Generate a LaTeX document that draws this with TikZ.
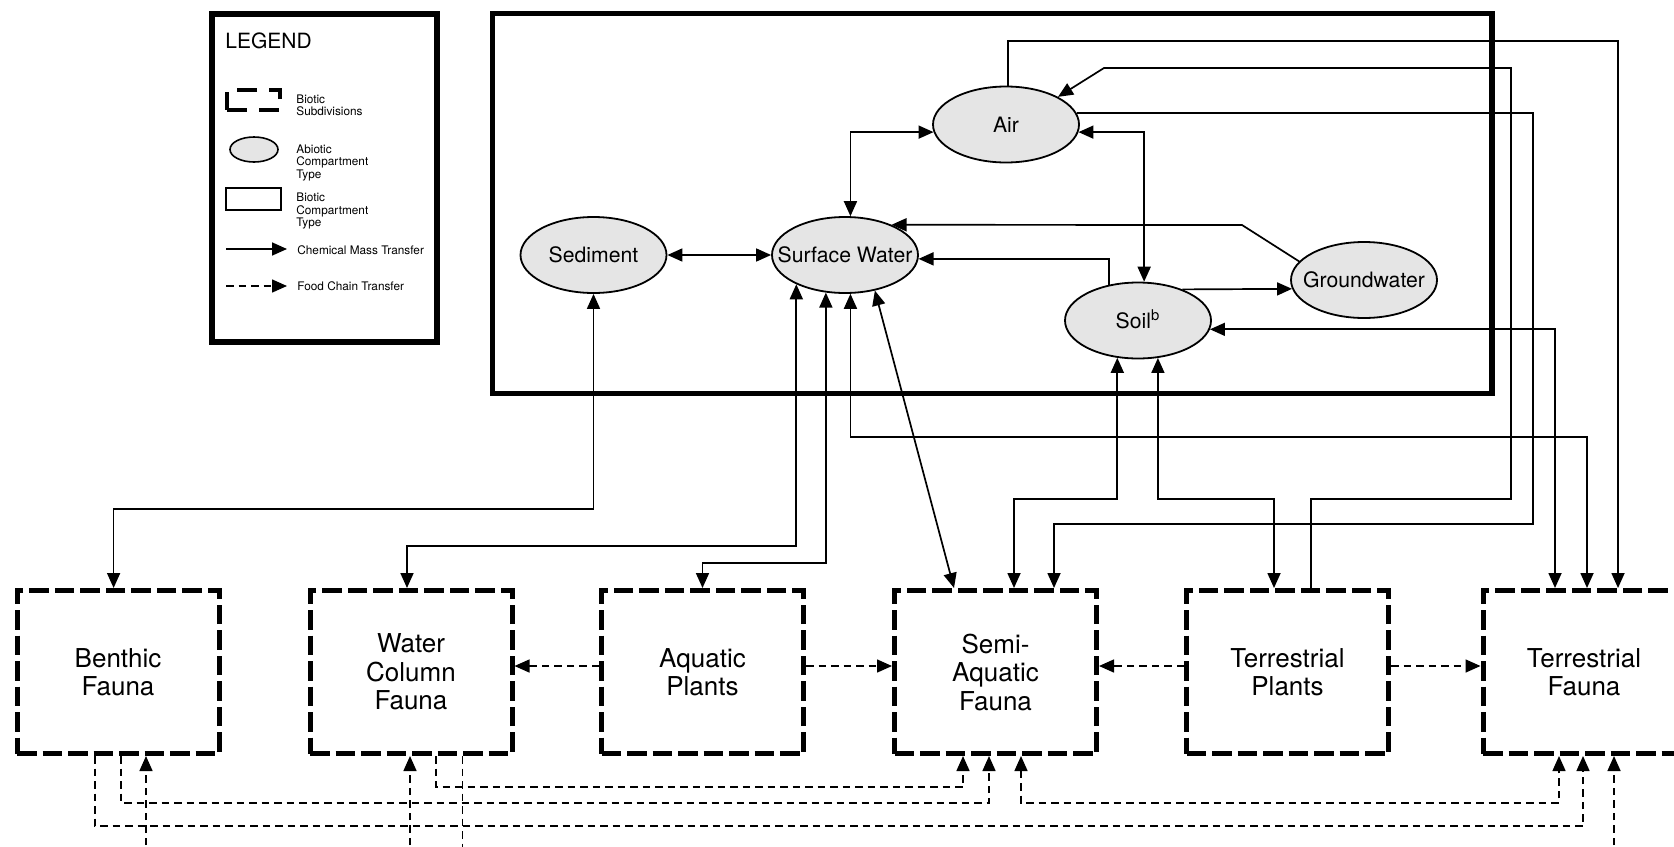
\documentclass[tikz,border=0pt]{standalone}
\usepackage{fontspec}
\setmainfont{TeX Gyre Heros}
\usetikzlibrary{arrows.meta,shapes.geometric}
\begin{document}
\begin{tikzpicture}[x=0.5pt,y=-0.5pt,
  >={Triangle[length=7.5pt,width=6.5pt]},
  chemline/.style={line width=0.85pt},
  foodline/.style={line width=0.75pt, dash pattern=on 3.75pt off 2.5pt},
  abio/.style={ellipse, draw, line width=0.9pt, fill=black!10,
    minimum width=73pt, minimum height=38pt, inner sep=0pt,
    text height=7.5pt, text depth=0pt,
    font=\fontsize{10.6}{12}\selectfont},
  biobox/.style={rectangle, draw, line width=2.5pt, dash pattern=on 9.75pt off 3pt,
    minimum width=101pt, minimum height=81.5pt, inner sep=0pt, align=center,
    font=\fontsize{13}{14.25}\selectfont},
  legtext/.style={anchor=west, align=left, inner sep=0pt,
    font=\fontsize{5.9}{6.25}\selectfont},
]
\fill[white] (0,0) rectangle (1674,846);
\useasboundingbox (0,0) rectangle (1674,846);
\clip (0,0) rectangle (1674,846);

% ---------- legend ----------
\node[draw, line width=3pt, minimum width=112.5pt, minimum height=164pt, inner sep=0pt] (legend) at (324.5,178) {};
\node[anchor=west, inner sep=0pt, font=\fontsize{10.5}{12}\selectfont] (legtitle) at (225,40.5) {LEGEND};
\node[draw, line width=2pt, dash pattern=on 10pt off 6pt, minimum width=26.5pt, minimum height=10pt, inner sep=0pt] (legbox) at (253.5,100) {};
\node[legtext] (legboxt) at (296,105.5) {Biotic\\Subdivisions};
\node[abio, minimum width=24pt, minimum height=12.5pt, line width=0.8pt] (legell) at (254,149.5) {};
\node[legtext] (legellt) at (296,162.5) {Abiotic\\Compartment\\Type};
\node[draw, line width=0.9pt, minimum width=27.5pt, minimum height=11pt, inner sep=0pt] (legrect) at (253.5,199) {};
\node[legtext] (legrectt) at (296,211) {Biotic\\Compartment\\Type};
\node[legtext] (legcm) at (297,250) {Chemical Mass Transfer};
\node[legtext] (legfc) at (297,286) {Food Chain Transfer};
\coordinate (lega) at (226,249);
\coordinate (legb) at (226,286);
\draw[chemline,->] (lega) -- ([xshift=-5pt]legcm.west |- lega);
\draw[foodline,->] (legb) -- ([xshift=-5pt]legfc.west |- legb);

% ---------- abiotic frame ----------
\node[draw, line width=2.8pt, minimum width=499.75pt, minimum height=190pt, inner sep=0pt] (frame) at (992.25,203.5) {};

% ---------- abiotic compartments ----------
\node[abio] (Sed) at (593.5,255) {\makebox[0pt]{Sediment}};
\node[abio] (SW) at (845,255) {\makebox[0pt]{Surface Water}};
\node[abio] (Air) at (1006,124.5) {\makebox[0pt]{Air}};
\node[abio] (Soil) at (1138,320.5) {\makebox[0pt]{Soil\textsuperscript{b}}};
\node[abio] (GW) at (1364,280) {\makebox[0pt]{Groundwater}};

% ---------- biotic subdivisions ----------
\node[biobox] (BF) at (118,672) {Benthic\\Fauna};
\node[biobox] (WCF) at (411,672) {Water\\Column\\Fauna};
\node[biobox] (AP) at (702.5,672) {Aquatic\\Plants};
\node[biobox] (SAF) at (995.5,672) {Semi-\\Aquatic\\Fauna};
\node[biobox] (TP) at (1287.5,672) {Terrestrial\\Plants};
\node[biobox] (TF) at (1584,672) {Terrestrial\\Fauna};

% ---------- chemical mass transfer ----------
\draw[chemline,<->] (Sed.east) -- (SW.west);
\draw[chemline,<->] (Air.186.8) -| (SW.82.5);
\draw[chemline,<->] (Air.-6) -| (Soil.81);
\draw[chemline,->] (GW.164.3) -- (1242,225) -- (SW.33.8);
\draw[chemline,->] (Soil.129.75) |- (SW.-3.95);
\draw[chemline,->] (Soil.35.5) -- (GW.187.9);
\draw[chemline,->] (Air.87) |- (1618,41) -- ([xshift=17pt]TF.north);
\draw[chemline,->] ([xshift=11.75pt]TP.north) |- (1511,499) |- (1104,68) -- (Air.28.3);
\draw[chemline,->] (Air.9.4) -| (1533,524) -| ([xshift=29.25pt]SAF.north);
\draw[chemline,<->] (Soil.241.3) |- (1014,499) -- ([xshift=9.25pt]SAF.north);
\draw[chemline,<->] (Soil.298.7) |- (1274,499) -- ([xshift=-6.75pt]TP.north);
\draw[chemline,<->] (Soil.-7.66) -| ([xshift=-14.5pt]TF.north);
\draw[chemline,<->] (SW.-82.5) |- (1587,437) -- ([xshift=1.5pt]TF.north);
\draw[chemline,<->] (SW.-50) -- ([xshift=-20.75pt]SAF.north);
\draw[chemline,<->] (SW.243.95) |- (702.5,563) -- (AP.north);
\draw[chemline,<->] (SW.211.75) |- (407,546) -- ([xshift=-2pt]WCF.north);
\draw[chemline,<->] (Sed.south) |- (113.6,509) -- ([xshift=-2.2pt]BF.north);

% ---------- food chain transfer ----------
\draw[foodline,->] ([yshift=3pt]AP.west) -- ([yshift=3pt]WCF.east);
\draw[foodline,->] ([yshift=3pt]AP.east) -- ([yshift=3pt]SAF.west);
\draw[foodline,->] ([yshift=3pt]TP.west) -- ([yshift=3pt]SAF.east);
\draw[foodline,->] ([yshift=3pt]TP.east) -- ([yshift=3pt]TF.west);
\draw[foodline,->] ([xshift=-11.5pt]BF.south) |- (1583,826) -- ([xshift=-0.5pt]TF.south);
\draw[foodline,->] ([xshift=1.5pt]BF.south) |- (989,803) -- ([xshift=-3.25pt]SAF.south);
\draw[foodline,->] ([xshift=12.5pt]WCF.south) |- (963,787) -- ([xshift=-16.25pt]SAF.south);
\draw[foodline,<->] ([xshift=12.75pt]SAF.south) |- (1559,803) -- ([xshift=-12.5pt]TF.south);
\coordinate (inBF) at (146,870);
\coordinate (inWCF) at (410,870);
\coordinate (outWCF) at (462.5,870);
\coordinate (inTF) at (1614,870);
\draw[foodline,->] (inBF) -- ([xshift=14pt]BF.south);
\draw[foodline,->] (inWCF) -- ([xshift=-0.5pt]WCF.south);
\draw[foodline] ([xshift=25.75pt]WCF.south) -- (outWCF);
\draw[foodline,->] (inTF) -- ([xshift=15pt]TF.south);
\end{tikzpicture}
\end{document}
